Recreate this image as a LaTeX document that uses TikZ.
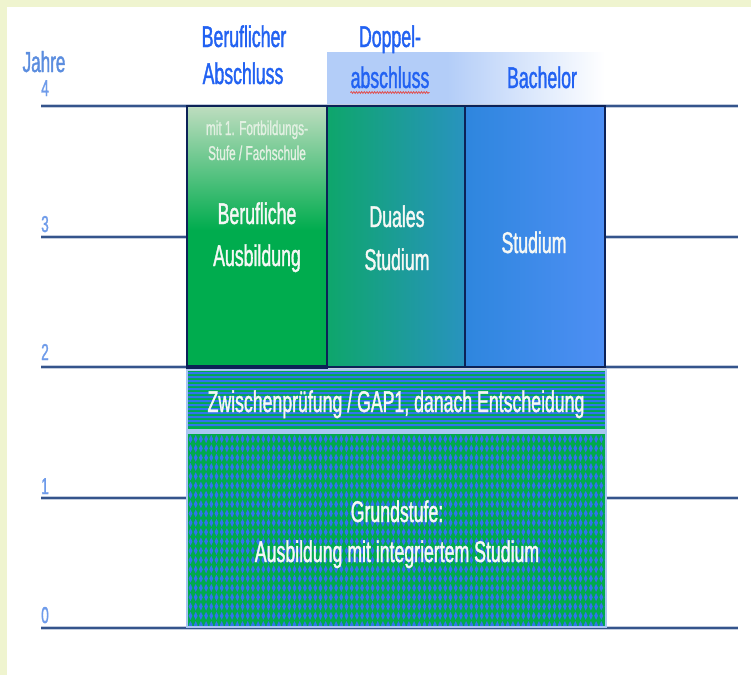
\documentclass[tikz,border=0pt]{standalone}
\usepackage{fontspec}
\setmainfont[FakeStretch=0.59,FakeBold=1.2]{Liberation Sans}
\usetikzlibrary{decorations.pathmorphing}

\definecolor{framecol}{HTML}{EFF4CF}
\definecolor{rulecol}{HTML}{34548C}
\definecolor{navy}{HTML}{0C2257}
\definecolor{hdrblue}{HTML}{2262F2}
\definecolor{jahreblue}{HTML}{5B8DDF}
\definecolor{yearblue}{HTML}{6E9BEA}
\definecolor{bandblue}{HTML}{B3CDF8}
\definecolor{palegreen}{HTML}{BEDDBF}
\definecolor{midgreen}{HTML}{6CC283}
\definecolor{ausgreen}{HTML}{00AC4E}
\definecolor{dualL}{HTML}{0EA66B}
\definecolor{dualR}{HTML}{2893BF}
\definecolor{studL}{HTML}{2E86DE}
\definecolor{studM}{HTML}{3E82FE}
\definecolor{studR}{HTML}{4E8FF4}
\definecolor{stripeblue}{HTML}{3274EC}
\definecolor{patgreen}{HTML}{00AA4C}
\definecolor{edgeblue}{HTML}{AAC6F2}
\definecolor{labelwhite}{HTML}{F5F8F5}
\definecolor{notegreen}{HTML}{E2F0E2}
\definecolor{spellred}{HTML}{E05050}

\tikzset{
  hdr/.style={font=\fontsize{30}{36}\selectfont, text=hdrblue, anchor=base, inner sep=0pt},
  yr/.style={font=\fontsize{23}{26}\selectfont, text=yearblue, anchor=base, inner sep=0pt},
  boxlbl/.style={font=\fontsize{30}{36}\selectfont, text=labelwhite, anchor=base, inner sep=0pt},
  note/.style={font=\fontsize{20}{24}\selectfont, text=notegreen, anchor=base, inner sep=0pt},
  yearrule/.style={rulecol, line width=1.8pt},
  yearhalo/.style={rulecol!30, line width=4pt},
  boxedge/.style={navy, line width=1.6pt},
}

\begin{document}
\begin{tikzpicture}[x=1pt,y=-1pt]
\useasboundingbox (0,0) rectangle (751,675);

% page ground with pale frame
\fill[framecol] (0,0) rectangle (751,675);
\fill[white] (7,7) rectangle (751,675);

% header band behind the degree labels
\fill[bandblue] (327,52) rectangle (448,106);
\shade[left color=bandblue, right color=white] (447,52) rectangle (605,106);

% year rules
\foreach \yy in {106,237,367,498,628} {
  \draw[yearhalo] (41,\yy) -- (738,\yy);
  \draw[yearrule] (41,\yy) -- (738,\yy);
}

% upper columns
\fill[ausgreen] (187,229) rectangle (327,367);
\shade[top color=palegreen, middle color=midgreen, bottom color=ausgreen] (187,106) rectangle (327,230);
\shade[left color=dualL, right color=dualR] (327,106) rectangle (465,367);
\shade[left color=studL, middle color=studM, right color=studR] (465,106) rectangle (605,367);
\draw[boxedge] (327,106) rectangle (465,367);
\draw[boxedge] (465,106) rectangle (605,367);
\draw[navy, line width=2.2pt] (187,106) rectangle (327,367);
\draw[navy, line width=3.5pt] (186,367) -- (328,367);

% intermediate exam band: green ground with blue stripes
\fill[patgreen] (187,370) rectangle (606,429);
\fill[stripeblue]
  \foreach \sy in {372,376,...,424} { (187,\sy) rectangle (606,\sy+2) };
% separator
\fill[edgeblue] (187,429) rectangle (606,434);
% foundation stage: green ground with rows of blue diamonds
\fill[patgreen] (187,434) rectangle (606,627);
\begin{scope}
  \clip (187,434) rectangle (606,627);
  \fill[stripeblue]
    \foreach \dj in {0,...,20} {
      \foreach \di in {0,...,80} {
        ({190.5+5.2*\di},{435+9.3*\dj}) -- ++(1.9,4.1) -- ++(-1.9,4.1) -- ++(-1.9,-4.1) -- cycle
      }
    };
\end{scope}
\draw[edgeblue, line width=1.5pt] (187,370) rectangle (606,627);

% axis labels
\node[yr, font=\fontsize{29}{32}\selectfont, text=jahreblue] (jahre) at (44,72) {Jahre};
\node[yr] (y4) at (45,96) {4};
\node[yr] (y3) at (45,232) {3};
\node[yr] (y2) at (45,360) {2};
\node[yr] (y1) at (45,494) {1};
\node[yr] (y0) at (45,623) {0};

% column headers
\node[hdr] (h1a) at (244,47) {Beruflicher};
\node[hdr] (h1b) at (243,84) {Abschluss};
\node[hdr] (h2a) at (390,47) {Doppel-};
\node[hdr] (h2b) at (390,88) {abschluss};
\node[hdr] (h3) at (542,88) {Bachelor};
\draw[spellred, line width=0.8pt, decorate,
      decoration={snake, amplitude=0.9pt, segment length=2.6pt}]
  (h2b.south west) ++(0,4) coordinate (wl) -- (h2b.south east |- wl);

% column texts
\node[note] (n1) at (257,135) {mit 1. Fortbildungs-};
\node[note] (n2) at (257,160) {Stufe / Fachschule};
\node[boxlbl] (b1) at (257,224) {Berufliche};
\node[boxlbl] (b2) at (257,266) {Ausbildung};
\node[boxlbl] (d1) at (397,227) {Duales};
\node[boxlbl] (d2) at (397,270) {Studium};
\node[boxlbl] (s1) at (534,253) {Studium};

% lower bands
\node[boxlbl] (z1) at (396,412) {Zwischenprüfung / GAP1, danach Entscheidung};
\node[boxlbl] (g1) at (397,522) {Grundstufe:};
\node[boxlbl] (g2) at (397,562) {Ausbildung mit integriertem Studium};
\end{tikzpicture}
\end{document}
